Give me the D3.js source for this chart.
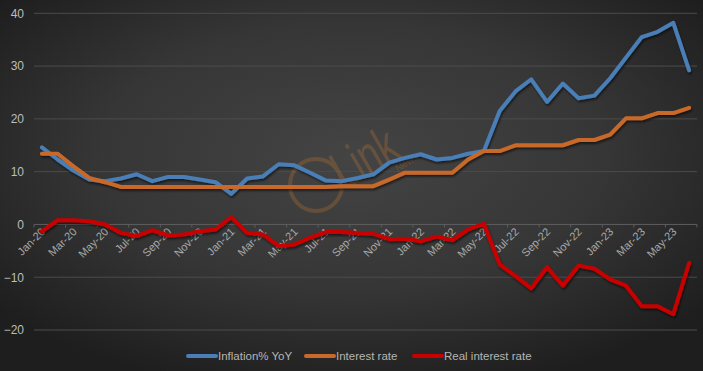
<!DOCTYPE html>
<html>
<head>
<meta charset="utf-8">
<script src="https://cdn.jsdelivr.net/npm/d3@7"></script>
<style>
  html, body { margin: 0; padding: 0; background: #2b2b2b; }
  svg { display: block; }
</style>
</head>
<body>
<svg id="chart" width="703" height="371"></svg>
<script>
// months Jan-20 .. Jun-23
var months = ['Jan-20','Feb-20','Mar-20','Apr-20','May-20','Jun-20','Jul-20','Aug-20','Sep-20','Oct-20','Nov-20','Dec-20',
  'Jan-21','Feb-21','Mar-21','Apr-21','May-21','Jun-21','Jul-21','Aug-21','Sep-21','Oct-21','Nov-21','Dec-21',
  'Jan-22','Feb-22','Mar-22','Apr-22','May-22','Jun-22','Jul-22','Aug-22','Sep-22','Oct-22','Nov-22','Dec-22',
  'Jan-23','Feb-23','Mar-23','Apr-23','May-23','Jun-23'];

var inflation = [14.6,12.3,10.2,8.5,8.2,8.7,9.5,8.2,9.0,9.0,8.5,8.0,
  5.8,8.7,9.1,11.4,11.2,9.8,8.3,8.2,8.8,9.5,11.7,12.6,
  13.3,12.3,12.6,13.4,13.9,21.5,25.2,27.5,23.2,26.7,23.9,24.4,
  27.7,31.6,35.5,36.5,38.2,29.2];

var interestRate = [13.4,13.4,11.0,8.8,8.0,7.1,7.1,7.1,7.1,7.1,7.1,7.1,
  7.1,7.1,7.1,7.1,7.1,7.1,7.1,7.25,7.25,7.25,8.5,9.8,
  9.8,9.8,9.8,12.3,13.9,13.9,15.0,15.0,15.0,15.0,16.0,16.0,
  17.0,20.1,20.1,21.1,21.1,22.1];

var realRate = [-1.3,0.8,0.8,0.6,0.0,-1.6,-2.2,-1.1,-2.1,-1.9,-1.3,-0.95,
  1.4,-1.6,-1.9,-4.1,-3.8,-2.5,-1.45,-1.45,-1.6,-1.8,-2.8,-2.7,
  -3.2,-2.3,-3.0,-0.95,0.1,-7.6,-9.8,-12.1,-8.1,-11.6,-7.8,-8.4,
  -10.4,-11.6,-15.5,-15.5,-17.0,-7.3];

var yTicks = [-20,-10,0,10,20,30,40];

var seriesNames = ['Inflation% YoY','Interest rate','Real interest rate'];
var seriesColors = ['#4a7eb6','#c8692c','#c80000'];

var svg = d3.select('#chart');
var W = 703, H = 371;

// 背景 (放射狀漸層)
var defs = svg.append('defs');
var grad = defs.append('radialGradient')
  .attr('id','bg').attr('cx','50%').attr('cy','42%').attr('r','65%');
grad.append('stop').attr('offset','0%').attr('stop-color','#444444');
grad.append('stop').attr('offset','55%').attr('stop-color','#363636');
grad.append('stop').attr('offset','100%').attr('stop-color','#1e1e1e');

var shadow = defs.append('filter').attr('id','shadow')
  .attr('x','-5%').attr('y','-5%').attr('width','110%').attr('height','120%');
shadow.append('feDropShadow').attr('dx',1).attr('dy',2).attr('stdDeviation',1.2)
  .attr('flood-color','#000').attr('flood-opacity',0.55);

svg.append('rect').attr('width',W).attr('height',H).attr('fill','url(#bg)');

var plotLeft = 34, plotRight = 697, plotTop = 13.3, plotBottom = 330;

var x = d3.scaleBand().domain(months).range([plotLeft, plotRight]).padding(0);
var y = d3.scaleLinear().domain([-20, 40]).range([plotBottom, plotTop]);

function cx(i) { return x(months[i]) + x.bandwidth() / 2; }

// 格線
svg.append('g').selectAll('line')
  .data(yTicks)
  .enter().append('line')
  .attr('x1', plotLeft).attr('x2', plotRight)
  .attr('y1', function(d){ return y(d); })
  .attr('y2', function(d){ return y(d); })
  .attr('stroke', function(d){ return d === 0 ? '#5e5e5e' : '#4c4c4c'; })
  .attr('stroke-width', 1);

// y 軸文字
var yAxis = d3.axisLeft(y).tickValues(yTicks).tickSize(0).tickPadding(0);
var gy = svg.append('g')
  .attr('transform','translate(24,0)')
  .call(yAxis);
gy.select('.domain').remove();
gy.selectAll('text')
  .attr('fill','#bdbdbd')
  .style('font-family','"Liberation Sans", Arial, sans-serif')
  .style('font-size','12px');

// watermark
var wm = svg.append('g').attr('opacity', 0.24);
wm.append('circle').attr('cx',316).attr('cy',185).attr('r',26)
  .attr('fill','none').attr('stroke','#d9822b').attr('stroke-width',4);
wm.append('text').attr('transform','translate(344,190) rotate(-30) scale(0.8,1.15)')
  .attr('fill','#d9822b')
  .style('font-family','"Liberation Sans", Arial, sans-serif')
  .style('font-size','46px')
  .text('Link');
wm.append('text').attr('transform','translate(398,172) rotate(-32)')
  .attr('fill','#d9822b')
  .style('font-family','"Liberation Sans", Arial, sans-serif')
  .style('font-size','10px')
  .text('News');

// x 軸 (位於 0 的位置)
var labelIdx = d3.range(0, months.length, 2);
var tickPos = labelIdx.map(function(i){ return x(months[i]); }).concat([plotRight]);
svg.append('g').selectAll('line')
  .data(tickPos)
  .enter().append('line')
  .attr('x1', function(d){ return d; }).attr('x2', function(d){ return d; })
  .attr('y1', y(0)).attr('y2', y(0) + 3)
  .attr('stroke','#5e5e5e');

svg.append('g').selectAll('text')
  .data(labelIdx)
  .enter().append('text')
  .attr('transform', function(i){ return 'translate(' + (cx(i) + 4) + ',' + (y(0) + 8) + ') rotate(-45)'; })
  .attr('text-anchor','end')
  .attr('fill','#a9a9a9')
  .style('font-family','"Liberation Sans", Arial, sans-serif')
  .style('font-size','11px')
  .text(function(i){ return months[i]; });

// 折線
var line = d3.line()
  .x(function(d, i){ return cx(i); })
  .y(function(d){ return y(d); });

var allSeries = [inflation, interestRate, realRate];
svg.append('g').attr('filter','url(#shadow)')
  .selectAll('path')
  .data(allSeries)
  .enter().append('path')
  .attr('d', line)
  .attr('fill','none')
  .attr('stroke', function(d, i){ return seriesColors[i]; })
  .attr('stroke-width', 4)
  .attr('stroke-linejoin','round')
  .attr('stroke-linecap','round');

// 圖例
var legendX = [188, 306, 414];
var lg = svg.append('g').selectAll('g')
  .data(seriesNames)
  .enter().append('g')
  .attr('transform', function(d, i){ return 'translate(' + legendX[i] + ',356)'; });
lg.append('line')
  .attr('x1',0).attr('x2',28).attr('y1',0).attr('y2',0)
  .attr('stroke', function(d, i){ return seriesColors[i]; })
  .attr('stroke-width',4)
  .attr('stroke-linecap','round');
lg.append('text')
  .attr('x',30).attr('y',4)
  .attr('fill','#b5b5b5')
  .style('font-family','"Liberation Sans", Arial, sans-serif')
  .style('font-size','11.5px')
  .text(function(d){ return d; });
</script>
</body>
</html>
